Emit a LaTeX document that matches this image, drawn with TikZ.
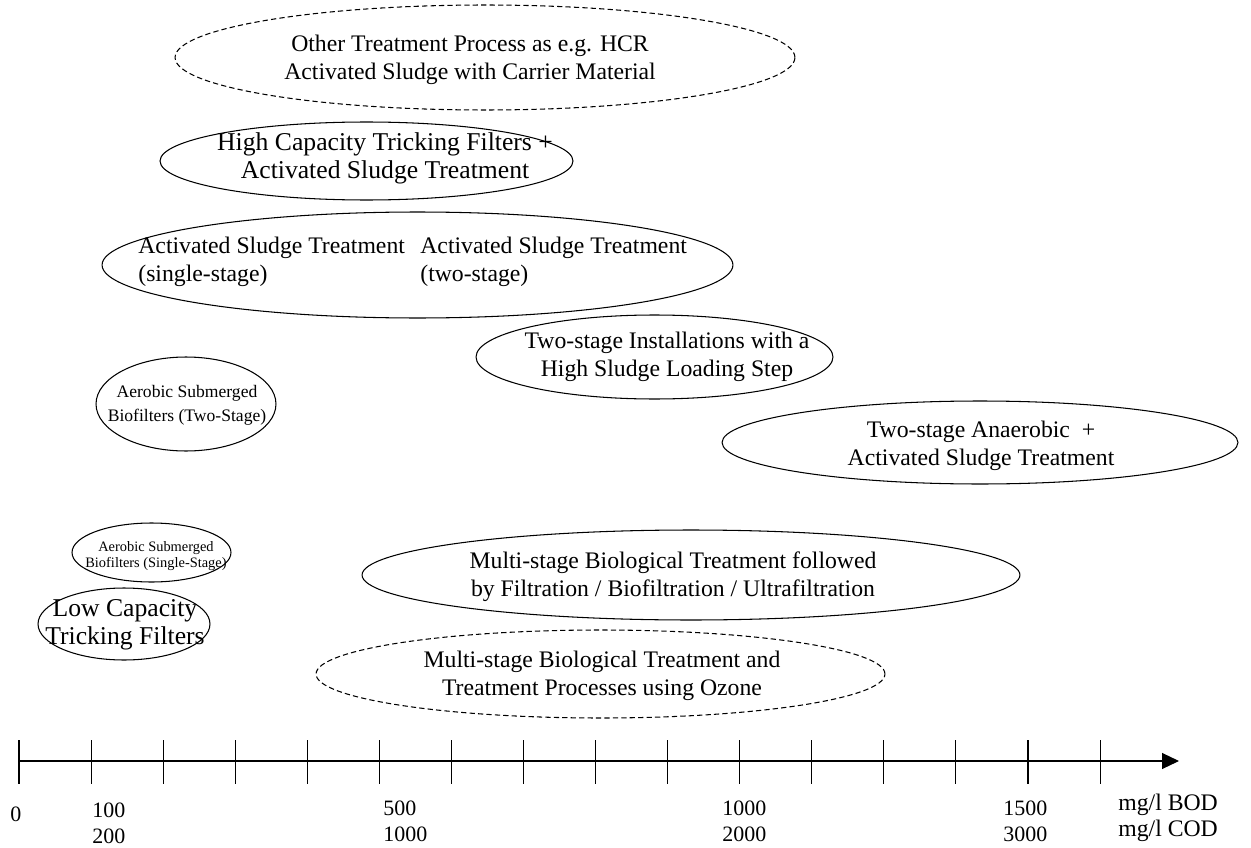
\documentclass[tikz,border=0pt]{standalone}
\usepackage{fontspec}
\setmainfont{Liberation Serif}
\usetikzlibrary{shapes.geometric,arrows.meta}
\begin{document}
\begin{tikzpicture}[x=0.02cm,y=-0.02cm,
  blob/.style={draw,ellipse,line width=0.6pt,inner sep=0pt,outer sep=0pt},
  dblob/.style={blob,dash pattern=on 3pt off 1.8pt},
  lbl/.style={font=\fontsize{13.5}{16}\selectfont,align=center,inner sep=0pt},
  biglbl/.style={font=\fontsize{14.6}{16}\selectfont,align=center,inner sep=0pt},
  smalllbl/.style={font=\fontsize{10}{13.5}\selectfont,align=center,inner sep=0pt},
  tinylbl/.style={font=\fontsize{8.2}{9.6}\selectfont,align=center,inner sep=0pt},
  axlbl/.style={font=\fontsize{12.5}{14.7}\selectfont,align=left,inner sep=0pt,anchor=west},
  axisline/.style={line width=0.6pt},
]
\useasboundingbox (0,0) rectangle (1251,848);

% ellipses
\node[dblob,minimum width=12.4cm,minimum height=2.1cm] (e1) at (485,57.5) {};
\node[blob,minimum width=8.26cm,minimum height=1.56cm] (e2) at (366.5,161) {};
\node[blob,minimum width=12.62cm,minimum height=2.12cm] (e3) at (417.5,265) {};
\node[blob,minimum width=7.14cm,minimum height=1.68cm] (e4) at (654.5,357) {};
\node[blob,minimum width=3.6cm,minimum height=1.88cm] (e5) at (186,404) {};
\node[blob,minimum width=10.32cm,minimum height=1.66cm] (e6) at (980,442.5) {};
\node[blob,minimum width=3.18cm,minimum height=1.18cm] (e7) at (151.5,552.5) {};
\node[blob,minimum width=13.16cm,minimum height=1.8cm] (e8) at (691,575) {};
\node[blob,minimum width=3.44cm,minimum height=1.44cm] (e9) at (124,624) {};
\node[dblob,minimum width=11.38cm,minimum height=1.76cm] (e10) at (600.5,674) {};

% texts
\node[lbl] (t1) at (470,60) {Other Treatment Process as e.g. HCR\\Activated Sludge with Carrier Material};
\node[biglbl] (t2) at (385,158) {High Capacity Tricking Filters +\\Activated Sludge Treatment};
\node[lbl,align=left,anchor=west] (t3a) at (138,262) {Activated Sludge Treatment\\(single-stage)};
\node[lbl,align=left,anchor=west] (t3b) at (420,262) {Activated Sludge Treatment\\(two-stage)};
\node[lbl] (t4) at (667,357) {Two-stage Installations with a\\High Sludge Loading Step};
\node[smalllbl] (t5) at (187,405) {Aerobic Submerged\\Biofilters (Two-Stage)};
\node[lbl] (t6) at (981,446) {Two-stage Anaerobic\ \ +\\Activated Sludge Treatment};
\node[tinylbl] (t7) at (156,556) {Aerobic Submerged\\Biofilters (Single-Stage)};
\node[lbl] (t8) at (673,577) {Multi-stage Biological Treatment followed\\by Filtration / Biofiltration / Ultrafiltration};
\node[biglbl] (t9) at (125,625) {Low Capacity\\Tricking Filters};
\node[lbl] (t10) at (602,676) {Multi-stage Biological Treatment and\\Treatment Processes using Ozone};

% axis
\coordinate (a0) at (19,761);
\coordinate (a1) at (1179,761);
\draw[axisline,-{Triangle[length=0.34cm,width=0.32cm]}] (a0) -- (a1);
\foreach \i in {0,...,15} {
  \draw[axisline] (19+72.07*\i,740) -- (19+72.07*\i,784);
}

% axis labels
\node[axlbl] (l0) at (10,814) {0};
\node[axlbl] (l1) at (92,823) {100\\200};
\node[axlbl] (l2) at (383,821) {500\\1000};
\node[axlbl] (l3) at (722,821) {1000\\2000};
\node[axlbl] (l4) at (1003,821) {1500\\3000};
\node[axlbl,font=\fontsize{13.5}{14.7}\selectfont] (l5) at (1118,818) {mg/l BOD\\mg/l COD};
\end{tikzpicture}
\end{document}
